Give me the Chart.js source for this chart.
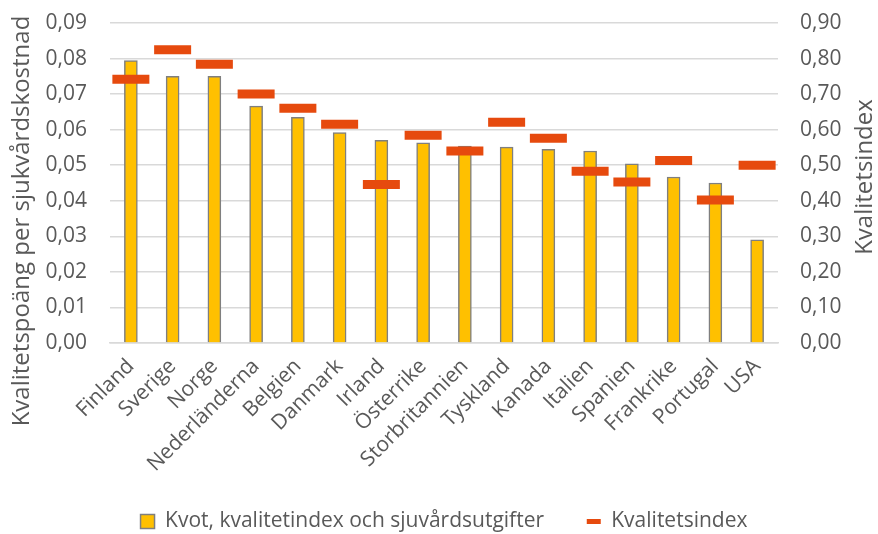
<!DOCTYPE html>
<html>
<head>
  <script src="https://cdn.jsdelivr.net/npm/chart.js@4"></script>
  <style>
    body { margin: 0; background: #fff; }
  </style>
</head>
<body>
  <div style="position: relative; width: 878px; height: 534px">
    <canvas id="myChart" width="878" height="534"></canvas>
  </div>
  <script type="text/javascript">
    var countries = ['Finland', 'Sverige', 'Norge', 'Nederländerna', 'Belgien', 'Danmark', 'Irland', 'Österrike',
      'Storbritannien', 'Tyskland', 'Kanada', 'Italien', 'Spanien', 'Frankrike', 'Portugal', 'USA'];
    // kvot (left axis)
    var kvot = [0.0794, 0.0750, 0.0750, 0.0666, 0.0635, 0.0592, 0.0570, 0.0563,
      0.0554, 0.0551, 0.0545, 0.0540, 0.0504, 0.0467, 0.0450, 0.0290];
    // kvalitetsindex (right axis)
    var kvalitet = [0.742, 0.825, 0.784, 0.700, 0.660, 0.615, 0.446, 0.584,
      0.540, 0.621, 0.576, 0.483, 0.453, 0.513, 0.402, 0.500];
    var leftTitle = 'Kvalitetspoäng per sjukvårdskostnad';
    var rightTitleText = 'Kvalitetsindex';

    var fontFam = '"Open Sans", sans-serif';
    var grey = '#595959';
    var orange = '#E64A0E';

    function komma(v, d) {
      return v.toFixed(d).replace('.', ',');
    }

    // both axis titles, bottom-to-top
    var axisTitles = {
      id: 'axisTitles',
      afterDraw: function(chart) {
        var c = chart.ctx;
        function vtext(txt, x, y) {
          c.save();
          c.translate(x, y);
          c.rotate(-Math.PI / 2);
          c.fillStyle = grey;
          c.font = '24px ' + fontFam;
          c.textAlign = 'center';
          c.textBaseline = 'middle';
          c.fillText(txt, 0, 0);
          c.restore();
        }
        vtext(leftTitle, 22, 221);
        vtext(rightTitleText, 865, 177);
      }
    };

    var ctx = document.getElementById('myChart').getContext('2d');
    var chart = new Chart(ctx, {
      type: 'bar',
      data: {
        labels: countries,
        datasets: [{
            label: 'Kvot, kvalitetindex och sjuvårdsutgifter',
            data: kvot,
            yAxisID: 'y',
            backgroundColor: '#FFC000',
            borderColor: '#7F7F7F',
            borderWidth: 1.5,
            barThickness: 13,
            order: 1
          },
          {
            type: 'line',
            label: 'Kvalitetsindex',
            data: kvalitet,
            yAxisID: 'y1',
            showLine: false,
            pointStyle: 'line',
            pointRadius: 18.5,
            pointHoverRadius: 18.5,
            pointBorderWidth: 9,
            pointHoverBorderWidth: 9,
            borderColor: orange,
            backgroundColor: orange,
            order: 0
          }
        ]
      },
      options: {
        responsive: false,
        animation: false,
        layout: {
          autoPadding: false,
          padding: { top: 23, right: 0, bottom: -8, left: 0 }
        },
        plugins: {
          legend: {
            position: 'bottom',
            fullSize: false,
            labels: {
              color: grey,
              font: { family: fontFam, size: 21 },
              usePointStyle: true,
              pointStyleWidth: 14,
              boxHeight: 14,
              padding: 10,
              generateLabels: function(ch) {
                return [{
                    // trailing spaces widen the gap to the next item
                    text: ch.data.datasets[0].label + '      ',
                    fillStyle: '#FFC000',
                    strokeStyle: '#7F7F7F',
                    lineWidth: 1.5,
                    pointStyle: 'rect',
                    fontColor: grey,
                    datasetIndex: 0
                  },
                  {
                    text: ch.data.datasets[1].label,
                    fillStyle: orange,
                    strokeStyle: orange,
                    lineWidth: 5,
                    pointStyle: 'line',
                    fontColor: grey,
                    datasetIndex: 1
                  }
                ];
              }
            }
          },
          tooltip: { enabled: false }
        },
        scales: {
          x: {
            grid: { display: false },
            border: { color: '#D9D9D9', width: 1.5 },
            ticks: {
              color: grey,
              font: { family: fontFam, size: 21 },
              minRotation: 45,
              maxRotation: 45,
              autoSkip: false
            },
            afterFit: function(s) { s.height = 158; }
          },
          y: {
            position: 'left',
            min: 0,
            max: 0.09,
            ticks: {
              stepSize: 0.01,
              color: grey,
              font: { family: fontFam, size: 21 },
              padding: 0,
              callback: function(v) { return komma(v, 2); }
            },
            // invisible tick marks give the label gap without extra top padding
            grid: { color: '#D9D9D9', lineWidth: 1.5, drawTicks: true, tickLength: 23, tickColor: 'rgba(0,0,0,0)' },
            border: { display: false },
            afterFit: function(s) { s.width = 110; }
          },
          y1: {
            position: 'right',
            min: 0,
            max: 0.9,
            ticks: {
              stepSize: 0.1,
              color: grey,
              font: { family: fontFam, size: 21 },
              padding: 0,
              callback: function(v) { return komma(v, 2); }
            },
            grid: { display: false, drawTicks: true, tickLength: 22 },
            border: { display: false },
            afterFit: function(s) { s.width = 100; }
          }
        }
      },
      plugins: [axisTitles]
    });
  </script>
</body>
</html>
